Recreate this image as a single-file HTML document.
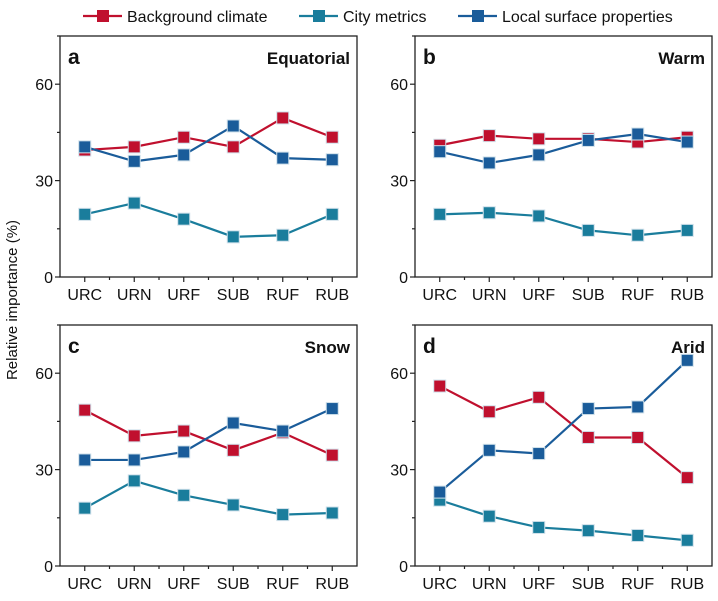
<!DOCTYPE html>
<html><head><meta charset="utf-8"><style>
body{margin:0;background:#fff;}
svg text{font-family:"Liberation Sans",Arial,sans-serif;}
</style></head><body>
<svg id="fig" width="718" height="596" xmlns="http://www.w3.org/2000/svg">
<g id="legend"></g>
<text x="17" y="300" transform="rotate(-90 17 300)" text-anchor="middle" font-size="15" fill="#111">Relative importance (%)</text>
</svg>
<script>
const categories = ["URC","URN","URF","SUB","RUF","RUB"];
const yTicks = [0,30,60];
const seriesNames = ["Background climate","City metrics","Local surface properties"];
const panelLetters = ["a","b","c","d"];
const panelTitles = ["Equatorial","Warm","Snow","Arid"];
const bgA = [39.5,40.5,43.5,40.5,49.5,43.5];
const cityA = [19.5,23,18,12.5,13,19.5];
const localA = [40.5,36,38,47,37,36.5];
const bgB = [41,44,43,43,42,43.5];
const cityB = [19.5,20,19,14.5,13,14.5];
const localB = [39,35.5,38,42.5,44.5,42];
const bgC = [48.5,40.5,42,36,41.5,34.5];
const cityC = [18,26.5,22,19,16,16.5];
const localC = [33,33,35.5,44.5,42,49];
const bgD = [56,48,52.5,40,40,27.5];
const cityD = [20.5,15.5,12,11,9.5,8];
const localD = [23,36,35,49,49.5,64];

const data = [[bgA,cityA,localA],[bgB,cityB,localB],[bgC,cityC,localC],[bgD,cityD,localD]];
const colors = ["#c0102e","#1a7d9c","#1a5c9a"];
const NS = "http://www.w3.org/2000/svg";
const svg = document.getElementById("fig");
const panels = [[60,36],[415,36],[60,325],[415,325]];
const PW = 297, PH = 241, YMAX = 75;
function mk(tag, attrs, parent){const e=document.createElementNS(NS,tag);for(const k in attrs)e.setAttribute(k,attrs[k]);(parent||svg).appendChild(e);return e;}

panels.forEach((p,pi)=>{
  const [x0,y0]=p;
  const g = mk("g",{});
  
  
  const sx = i => x0 + PW*(i+0.5)/categories.length;
  const sy = v => y0 + PH - v/YMAX*PH;
  const box = mk("rect",{x:x0,y:y0,width:PW,height:PH,fill:"none",stroke:"#222","stroke-width":1.3},g);
  
  
  for(let v=0; v<=YMAX; v+=15){
    const major = yTicks.includes(v);
    mk("line",{x1:x0-(major?5:3),x2:x0,y1:sy(v),y2:sy(v),stroke:"#222","stroke-width":1.2},g);
  }
  yTicks.forEach(v=>{
    const t=mk("text",{x:x0-7,y:sy(v)+6,"text-anchor":"end","font-size":16,fill:"#111"},g);
    t.textContent=v;
    
    
  });
  categories.forEach((c,i)=>{
    mk("line",{x1:sx(i),x2:sx(i),y1:y0+PH,y2:y0+PH+5,stroke:"#222","stroke-width":1.2},g);
    if(i<categories.length-1){const xm=(sx(i)+sx(i+1))/2;mk("line",{x1:xm,x2:xm,y1:y0+PH,y2:y0+PH+3,stroke:"#222","stroke-width":1.2},g);}
    const t=mk("text",{x:sx(i),y:y0+PH+23,"text-anchor":"middle","font-size":16,fill:"#111"},g);
    t.textContent=c;
    
    
  });
  const L=mk("text",{x:x0+8,y:y0+28,"font-size":21,"font-weight":"bold",fill:"#111"},g);
  L.textContent=panelLetters[pi];
  
  
  const T=mk("text",{x:x0+PW-7,y:y0+28,"text-anchor":"end","font-size":17,"font-weight":"bold",fill:"#111"},g);
  T.textContent=panelTitles[pi];
  
  
  data[pi].forEach((vals,si)=>{
    const pts=vals.map((v,i)=>sx(i)+","+sy(v)).join(" ");
    const pl=mk("polyline",{points:pts,fill:"none",stroke:colors[si],"stroke-width":2.2},g);
    
    
    vals.forEach((v,i)=>{
      const r=mk("rect",{x:sx(i)-6,y:sy(v)-6,width:12,height:12,fill:colors[si],stroke:"#cfe0ea","stroke-width":1},g);
      
      
    });
  });
});
const lg=document.getElementById("legend");
const lx=[85,301,460];
seriesNames.forEach((n,i)=>{
  const x=lx[i];
  const e=mk("g",{},lg);
  
  
  mk("line",{x1:x-2,x2:x+37,y1:16,y2:16,stroke:colors[i],"stroke-width":2.2},e);
  mk("rect",{x:x+12,y:10,width:12,height:12,fill:colors[i]},e);
  const t=mk("text",{x:x+42,y:22,"font-size":16,fill:"#111"},e);
  t.textContent=n;
});
</script>
</body></html>
